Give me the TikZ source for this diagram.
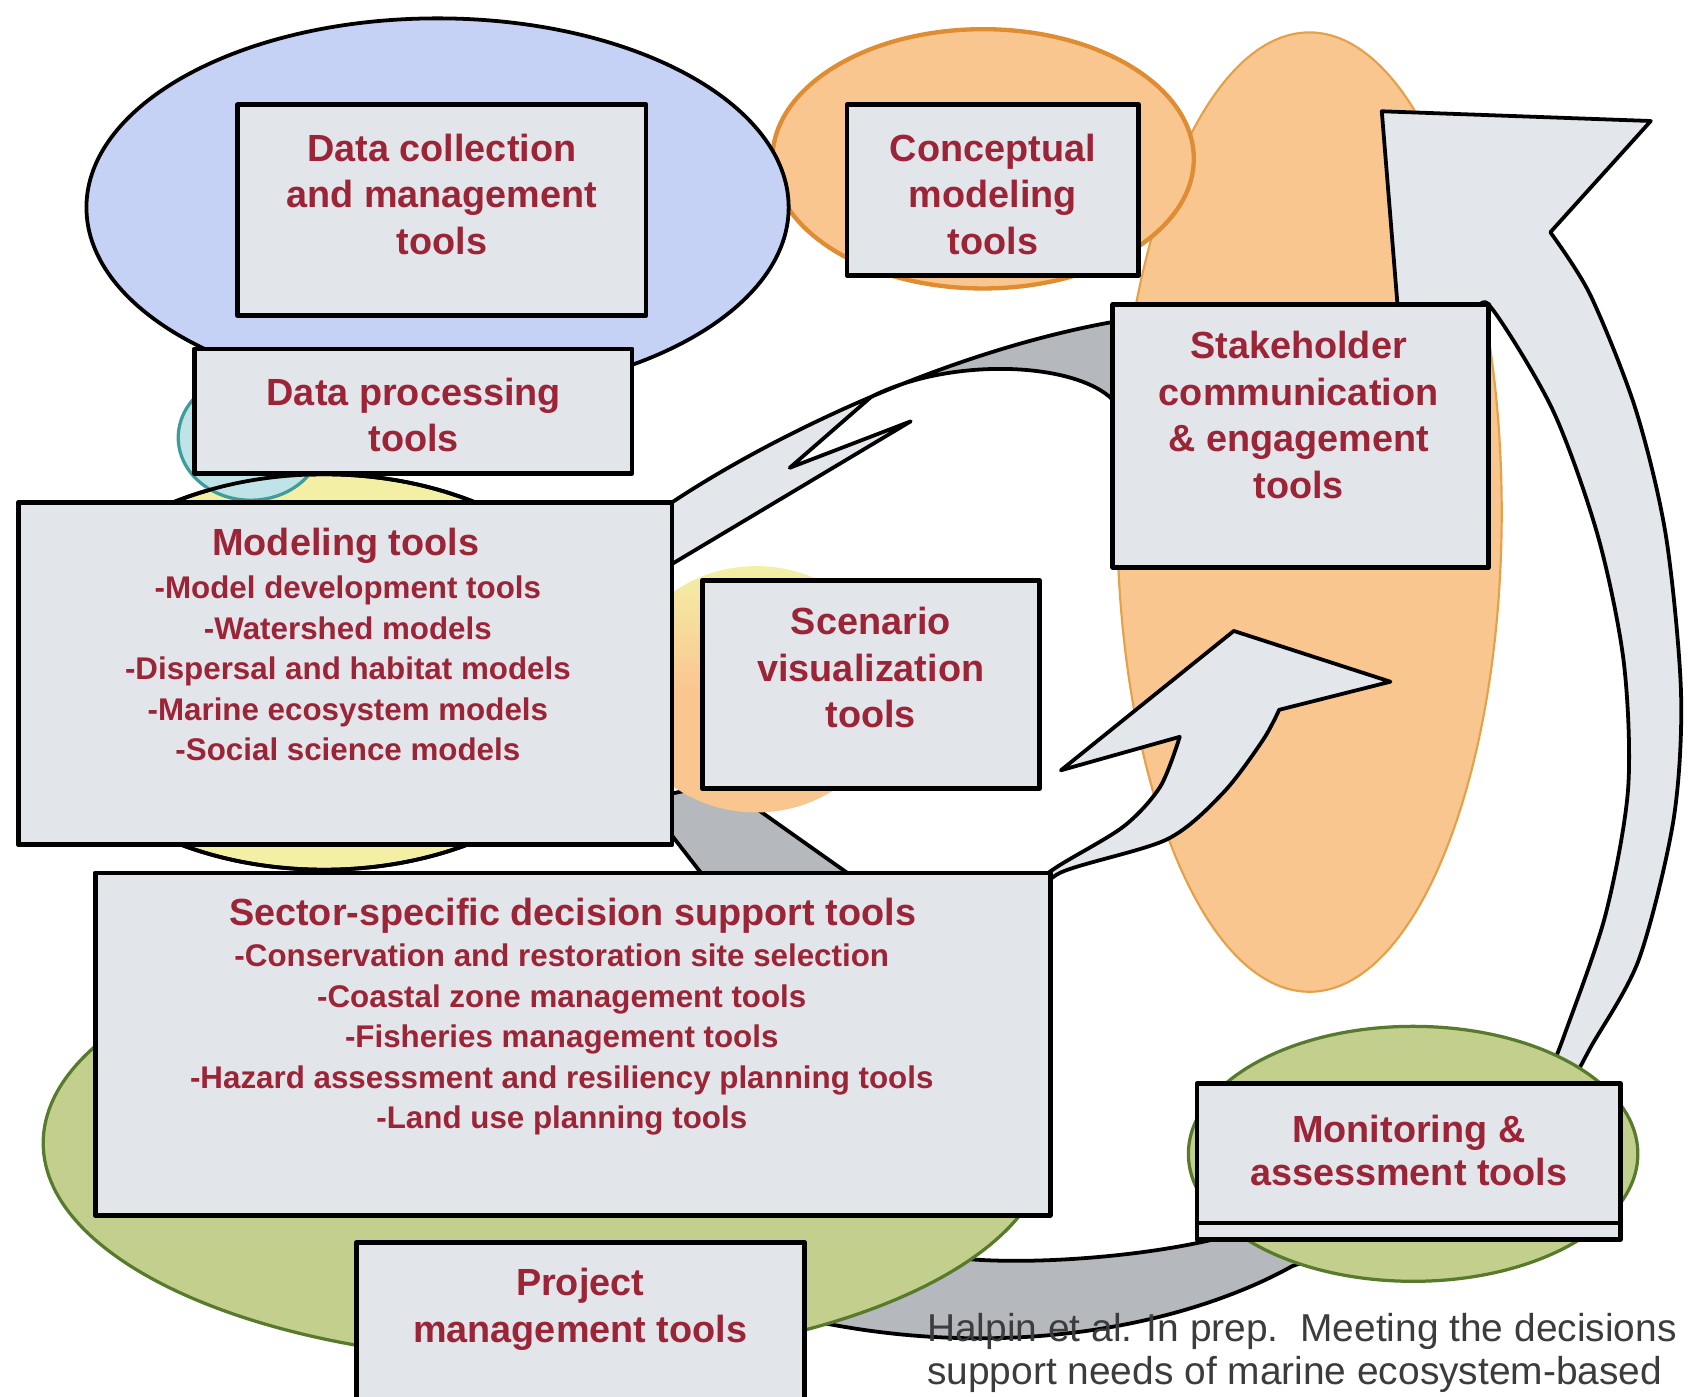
\documentclass[tikz,border=0pt]{standalone}
\usepackage{fontspec}
\setmainfont{Liberation Sans}
\definecolor{boxfill}{HTML}{E2E5EA}
\definecolor{txtred}{HTML}{9B2437}
\definecolor{captxt}{HTML}{3C3C3C}
\definecolor{blueell}{HTML}{C6D1F6}
\definecolor{orangeell}{HTML}{FAC690}
\definecolor{orangeline}{HTML}{E08C32}
\definecolor{orangethin}{HTML}{E3A24A}
\definecolor{greenell}{HTML}{C3CF8D}
\definecolor{greenline}{HTML}{587A2C}
\definecolor{yellowell}{HTML}{F3F0A6}
\definecolor{tealline}{HTML}{3E9C9A}
\definecolor{tealfill}{HTML}{BFE3E6}
\definecolor{arrowlight}{HTML}{E3E6EA}
\definecolor{arrowdark}{HTML}{B5B8BC}
\begin{document}
\begin{tikzpicture}[x=1pt,y=-1pt,line join=round,
  box/.style={draw=black,line width=4.5pt,fill=boxfill,rectangle,inner sep=0pt},
  ttl/.style={text=txtred,font=\fontsize{35}{43}\selectfont\bfseries,align=center,inner sep=0pt},
  itm/.style={text=txtred,font=\fontsize{29}{37.5}\selectfont\bfseries,align=center,inner sep=0pt},
  captionstyle/.style={text=captxt,font=\fontsize{36}{40}\selectfont,align=left,inner sep=0pt,anchor=west},
  alight/.style={fill=arrowlight,draw=black,line width=3.5pt},
  adark/.style={fill=arrowdark,draw=black,line width=3.5pt}]
\useasboundingbox (0,0) rectangle (1568,1293);
\fill[white] (0,0) rectangle (1568,1293);

% ---- background ellipses ----
\filldraw[fill=orangeell,draw=orangethin,line width=2pt] (1212,474) ellipse [x radius=178pt,y radius=444pt];
\filldraw[fill=orangeell,draw=orangeline,line width=4pt] (910,147) ellipse [x radius=195pt,y radius=120pt];
\filldraw[fill=blueell,draw=black,line width=3.5pt] (405,192) ellipse [x radius=325pt,y radius=175pt];

% grey band between modeling and sector boxes
\filldraw[adark] (596,740) -- (652,812) -- (790,812) -- (667,725) -- cycle;
% small orange circle behind scenario box
\shade[top color=yellowell,bottom color=orangeell,middle color=orangeell] (700,638) ellipse [x radius=125pt,y radius=114pt];

% yellow and teal ellipses behind modeling box
\filldraw[fill=yellowell,draw=black,line width=3.5pt] (300,622) ellipse [x radius=272pt,y radius=183pt];
\filldraw[fill=tealfill,draw=tealline,line width=3pt] (232,405) ellipse [x radius=67pt,y radius=58pt];
\draw[black,line width=3.5pt] (300,622) ellipse [x radius=272pt,y radius=183pt];

% ---- block arrows ----
% big right arrow (monitoring -> top)
\filldraw[alight] (1295,300) -- (1279,103) -- (1528,112) -- (1435,215)
  -- plot[smooth] coordinates {(1435,215) (1472,273) (1514,379) (1542,496) (1556,642) (1549,759) (1517,888) (1472,970) (1452,1008)}
  -- (1432,998)
  -- plot[smooth] coordinates {(1432,998) (1448,958) (1486,847) (1507,730) (1503,613) (1479,496) (1437,379) (1378,282) (1365,300)}
  -- cycle;
% middle arrow (sector -> stakeholder)
\filldraw[alight] (1142,584) -- (1287,631) -- (1184,657)
  -- plot[smooth] coordinates {(1184,657) (1169,685) (1132,734) (1080,777) (981,808) (955,838)}
  -- (940,830)
  -- plot[smooth] coordinates {(940,830) (979,802) (1040,765) (1074,728) (1092,682)}
  -- (982,713) -- cycle;
% upper arrow (stakeholder -> modeling)
\filldraw[adark] (806.5,367.25) .. controls (877.5,337) and (955,311.5) .. (1030,298)
  -- (1045,297) -- (1045,372) -- (1030,370)
  .. controls (995,335) and (880,330) .. (806.5,367.25) -- cycle;
\filldraw[alight] (600,478) -- (622,465) .. controls (671,432.5) and (735.5,397.5) .. (806.5,367.25)
  -- (731,433) -- (843,390) -- (622,522) -- (600,535) -- cycle;
% bottom arrow (monitoring -> project)
\filldraw[adark] (860,1160) .. controls (920,1175) and (1070,1165) .. (1150,1140)
  -- (1230,1160) -- (1196,1172)
  .. controls (1110,1220) and (950,1262) .. (759,1224) -- (740,1215) -- cycle;

% ---- green ellipses ----
\filldraw[fill=greenell,draw=greenline,line width=3pt] (505,1058) ellipse [x radius=465pt,y radius=202pt];
\filldraw[fill=greenell,draw=greenline,line width=3pt] (1308,1068) ellipse [x radius=208pt,y radius=118pt];

% ---- boxes ----
\node[box,minimum width=378pt,minimum height=195pt] (dcbox) at (409,194.5) {};
\node[box,minimum width=270pt,minimum height=158pt] (cmbox) at (919,176) {};
\node[box,minimum width=405pt,minimum height=115pt] (dpbox) at (382.5,380.5) {};
\node[box,minimum width=348pt,minimum height=243pt] (shbox) at (1204,403.5) {};
\node[box,minimum width=605pt,minimum height=317pt] (mdbox) at (319.5,623.5) {};
\node[box,minimum width=312pt,minimum height=193pt] (scbox) at (806,633.5) {};
\node[box,minimum width=884pt,minimum height=317pt] (ssbox) at (530,966.5) {};
\node[box,minimum width=415pt,minimum height=160pt] (pmbox) at (537.5,1230) {};
\node[box,minimum width=392pt,minimum height=144pt] (mobox) at (1304,1075) {};
\draw[black,line width=4pt] (mobox.west |- 0,1132) -- (mobox.east |- 0,1132);

% ---- texts ----
\node[ttl] (dctext) at (409,180) {Data collection\\and management\\tools};
\node[ttl] (cmtext) at (919,180) {Conceptual\\modeling\\tools};
\node[ttl] (dptext) at (383,384) {Data processing\\tools};
\node[ttl] (shtext) at (1202,384) {Stakeholder\\communication\\\& engagement\\tools};
\node[ttl] (mdtitle) at (320,505) {Modeling tools};
\node[itm] (mditems) at (322,619) {-Model development tools\\-Watershed models\\-Dispersal and habitat models\\-Marine ecosystem models\\-Social science models};
\node[ttl] (sctext) at (806,618) {Scenario\\visualization\\tools};
\node[ttl] (sstitle) at (530,848) {Sector-specific decision support tools};
\node[itm] (ssitems) at (520,962.5) {-Conservation and restoration site selection\\-Coastal zone management tools\\-Fisheries management tools\\-Hazard assessment and resiliency planning tools\\-Land use planning tools};
\node[ttl] (pmtext) at (537,1212) {Project\\management tools};
\node[ttl,font=\fontsize{35}{40}\selectfont\bfseries] (motext) at (1304,1065) {Monitoring \&\\assessment tools};
\node[captionstyle] (caption) at (858,1252) {Halpin et al. In prep.\ \ Meeting the decisions\\support needs of marine ecosystem-based};
\end{tikzpicture}
\end{document}
